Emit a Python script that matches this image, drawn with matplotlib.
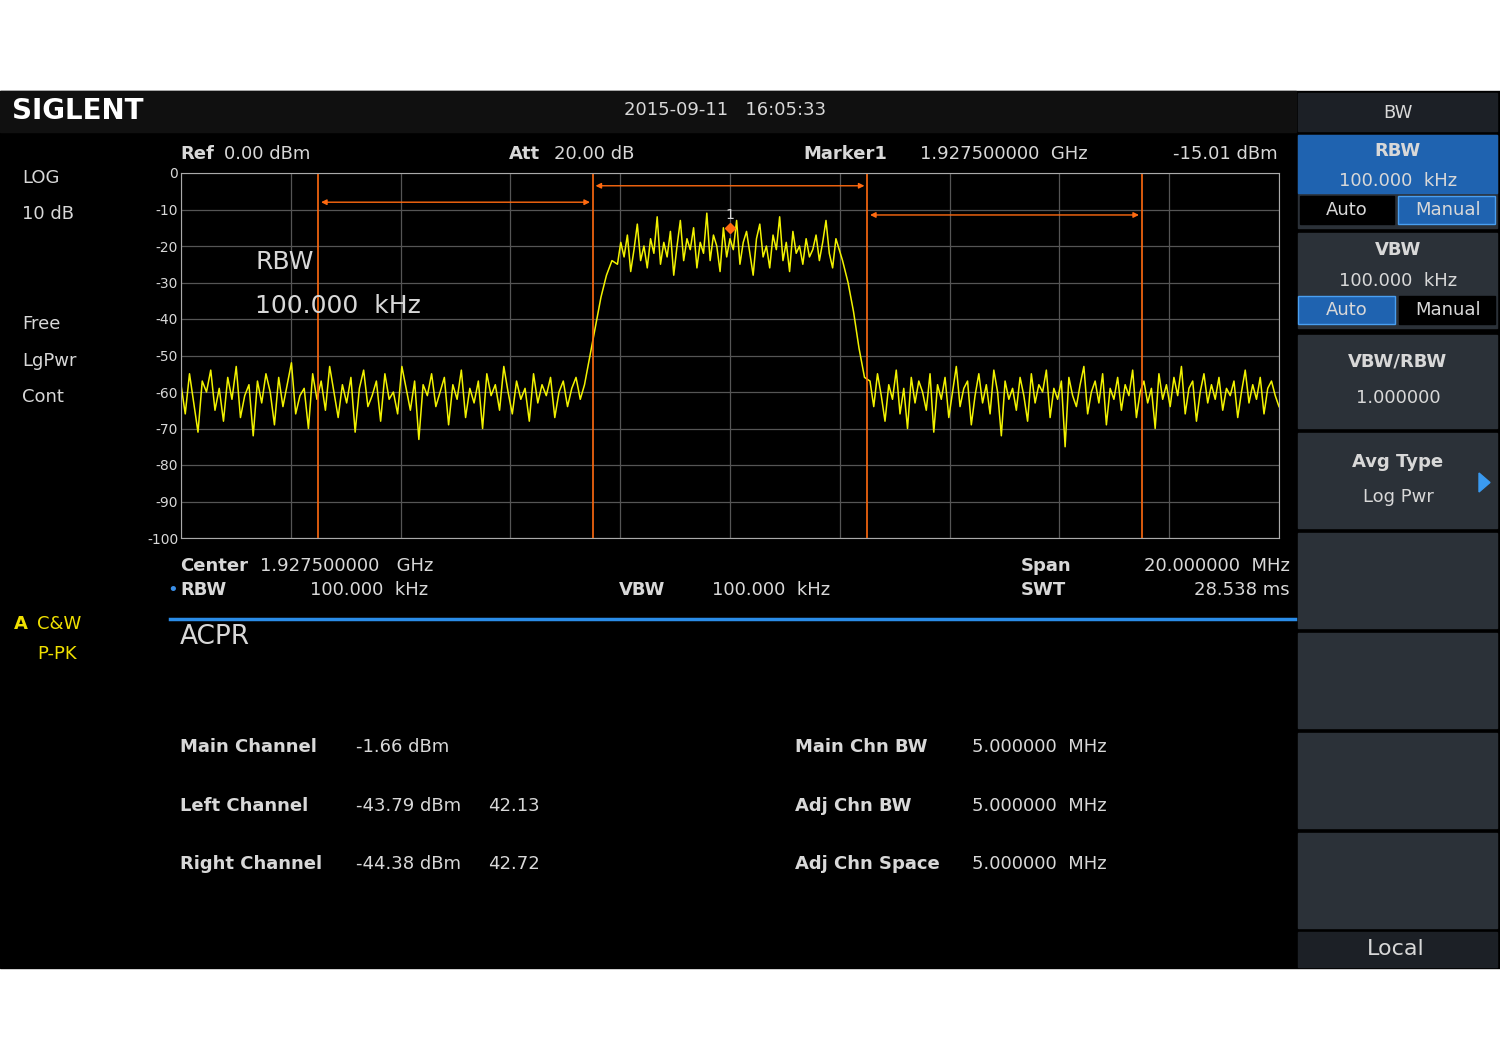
import numpy as np
import matplotlib.pyplot as plt
from matplotlib.patches import Rectangle

# trace values (dBm)
left_noise = [-58,-66,-55,-63,-71,-57,-60,-54,-65,-59,-68,-56,-62,-53,-67,-61,-58,-72,-57,-63,
              -55,-60,-69,-56,-64,-58,-52,-66,-61,-59,-70,-55,-62,-57,-65,-53,-60,-67,-58,-63,
              -56,-71,-59,-54,-64,-61,-57,-68,-55,-62,-60,-66,-53,-59,-65,-57,-73,-58,-61,-55,
              -64,-60,-56,-69,-58,-62,-54,-67,-59,-63,-57,-70,-55,-61,-58,-65,-53,-60,-66,-57,
              -62,-59,-68,-55,-63,-58,-61,-56,-67,-60,-57,-64,-59,-56,-62]
rise = [-58,-50,-42,-34,-28,-24]
main_chan = [-25,-19,-23,-17,-27,-21,-14,-24,-20,-26,-18,-22,-12,-25,-19,-23,-16,-28,-20,-13,
             -24,-18,-21,-15,-26,-19,-22,-11,-24,-17,-20,-27,-15,-23,-18,-21,-13,-25,-19,-16,
             -22,-28,-18,-14,-23,-20,-26,-17,-21,-12,-24,-19,-27,-16,-22,-20,-25,-18,-23,-21,
             -17,-24,-19,-13,-22,-26,-18,-21]
fall = [-24,-30,-38,-48,-56]
right_noise = [-57,-64,-55,-61,-68,-58,-62,-54,-66,-59,-70,-56,-63,-57,-60,-65,-55,-71,-58,-62,
               -56,-67,-60,-53,-64,-59,-57,-69,-61,-55,-63,-58,-66,-54,-60,-72,-57,-62,-59,-65,
               -56,-61,-68,-55,-63,-58,-60,-54,-67,-59,-62,-57,-75,-56,-61,-64,-58,-53,-66,-60,
               -57,-63,-55,-69,-59,-62,-56,-65,-58,-61,-54,-67,-60,-57,-63,-59,-70,-55,-62,-58,
               -64,-56,-61,-53,-66,-59,-57,-68,-60,-55,-63,-58,-62,-56,-65,-59,-61,-57,-67,-60,
               -54,-63,-58,-62,-56,-66,-59,-57,-61,-64]
seg_edges = [1917.5, 1924.85, 1925.45, 1929.55, 1930.05, 1937.5]
chan_lines = [1920.0, 1925.0, 1930.0, 1935.0]
marker = (1927.5, -15.01)

fig = plt.figure(figsize=(15, 10.6), dpi=100)
fig.patch.set_facecolor('white')
bg = fig.add_axes([0, 0, 1, 1])
bg.set_xlim(0, 1500)
bg.set_ylim(1060, 0)
bg.axis('off')

GRAY = '#d8d8d8'
bg.add_patch(Rectangle((0, 91), 1500, 877, color='black'))
bg.add_patch(Rectangle((0, 91), 1296, 41, color='#101010'))

def t(x, y, s, size=13, color=GRAY, ha='left', weight='normal'):
    bg.text(x, y, s, fontsize=size, color=color, ha=ha, va='center', weight=weight)

t(12, 111, 'SIGLENT', size=20, color='white', weight='bold')
t(725, 110, '2015-09-11   16:05:33', size=13, ha='center')
t(180, 154, 'Ref', weight='bold'); t(224, 154, '0.00 dBm')
t(509, 154, 'Att', weight='bold'); t(554, 154, '20.00 dB')
t(803, 154, 'Marker1', weight='bold'); t(920, 154, '1.927500000  GHz')
t(1278, 154, '-15.01 dBm', ha='right')
for y, s in [(178, 'LOG'), (214, '10 dB'), (324, 'Free'), (361, 'LgPwr'), (397, 'Cont')]:
    t(22, y, s)
t(180, 566, 'Center', weight='bold'); t(260, 566, '1.927500000   GHz')
t(1021, 566, 'Span', weight='bold'); t(1290, 566, '20.000000  MHz', ha='right')
t(167, 590, '•', color='#3a8ee6'); t(180, 590, 'RBW', weight='bold'); t(310, 590, '100.000  kHz')
t(619, 590, 'VBW', weight='bold'); t(712, 590, '100.000  kHz')
t(1021, 590, 'SWT', weight='bold'); t(1290, 590, '28.538 ms', ha='right')
t(14, 624, 'A', color='#f0e000', weight='bold'); t(37, 624, 'C&W', color='#f0e000')
t(37, 654, 'P-PK', color='#f0e000')
bg.plot([170, 1295], [619, 619], color='#2a8ce8', lw=2.5)
t(180, 637, 'ACPR', size=19)
rows = [(747, 'Main Channel', '-1.66 dBm', '', 'Main Chn BW'),
        (806, 'Left Channel', '-43.79 dBm', '42.13', 'Adj Chn BW'),
        (864, 'Right Channel', '-44.38 dBm', '42.72', 'Adj Chn Space')]
for y, a, b, c, d in rows:
    t(180, y, a, weight='bold'); t(356, y, b); t(488, y, c)
    t(795, y, d, weight='bold'); t(972, y, '5.000000  MHz')

# right soft-key panel
PANEL = '#2b3138'
BLUE = '#1f63b0'
bg.add_patch(Rectangle((1298, 93), 199, 38, color='#1c2026'))
t(1398, 113, 'BW', ha='center')
for y0, h in [(135, 93), (233, 95), (335, 93), (433, 95), (533, 95), (633, 95), (733, 95), (833, 95)]:
    bg.add_patch(Rectangle((1298, y0), 199, h, color=PANEL))
bg.add_patch(Rectangle((1298, 135), 199, 58, color=BLUE))
bg.add_patch(Rectangle((1300, 196), 94, 28, color='black'))
bg.add_patch(Rectangle((1398, 196), 97, 28, color=BLUE, ec='#4a9ff0'))
bg.add_patch(Rectangle((1298, 296), 97, 28, color=BLUE, ec='#4a9ff0'))
bg.add_patch(Rectangle((1399, 296), 96, 28, color='black'))
bg.add_patch(Rectangle((1298, 932), 199, 35, color='#1c2026'))
t(1398, 151, 'RBW', weight='bold', ha='center'); t(1398, 181, '100.000  kHz', ha='center')
t(1347, 210, 'Auto', ha='center'); t(1448, 210, 'Manual', ha='center')
t(1398, 250, 'VBW', weight='bold', ha='center'); t(1398, 281, '100.000  kHz', ha='center')
t(1347, 310, 'Auto', ha='center'); t(1448, 310, 'Manual', ha='center')
t(1398, 362, 'VBW/RBW', weight='bold', ha='center'); t(1398, 398, '1.000000', ha='center')
t(1398, 462, 'Avg Type', weight='bold', ha='center'); t(1398, 497, 'Log Pwr', ha='center')
bg.fill([1479, 1479, 1490], [473, 492, 482.5], color='#3a9af0')
t(1396, 949, 'Local', size=16, ha='center')

# trace area
ax = fig.add_axes([181/1500, 1 - 538/1060, 1098/1500, 365/1060])
ax.set_facecolor('black')
ax.set_xlim(1917.5, 1937.5)
ax.set_ylim(-100, 0)
ax.set_xticks(np.linspace(1917.5, 1937.5, 11))
ax.set_yticks(np.arange(-100, 1, 10))
ax.set_yticklabels(['-100', '-90', '-80', '-70', '-60', '-50', '-40', '-30', '-20', '-10', '0'])
ax.tick_params(axis='x', length=0, labelbottom=False)
ax.tick_params(axis='y', length=0, labelsize=10, colors=GRAY, pad=2)
ax.grid(color='#555555', lw=0.9)
for s in ax.spines.values():
    s.set_color('#aaaaaa')

segs = [left_noise, rise, main_chan, fall, right_noise]
xs, ys = [], []
for i, seg in enumerate(segs):
    xs.extend(np.linspace(seg_edges[i], seg_edges[i + 1], len(seg), endpoint=(i == len(segs) - 1)))
    ys.extend(seg)
ax.plot(xs, ys, color='#f2f200', lw=1.1)

OR = '#ff6a10'
for xv in chan_lines:
    ax.axvline(xv, color=OR, lw=1.2)
for a, b, yv in [(chan_lines[0], chan_lines[1], -8), (chan_lines[1], chan_lines[2], -3.5), (chan_lines[2], chan_lines[3], -11.5)]:
    ax.annotate('', xy=(a, yv), xytext=(b, yv), arrowprops=dict(arrowstyle='<|-|>', color=OR, lw=1, mutation_scale=8))
ax.plot(*marker, marker='D', color=OR, ms=5)
ax.text(marker[0], marker[1] + 1.5, '1', color=GRAY, ha='center', va='bottom', fontsize=10)
ax.text(1918.85, -24.4, 'RBW', color=GRAY, fontsize=18, va='center')
ax.text(1918.85, -36.4, '100.000  kHz', color=GRAY, fontsize=18, va='center')

fig.savefig('out.png', dpi=100, facecolor='white')
